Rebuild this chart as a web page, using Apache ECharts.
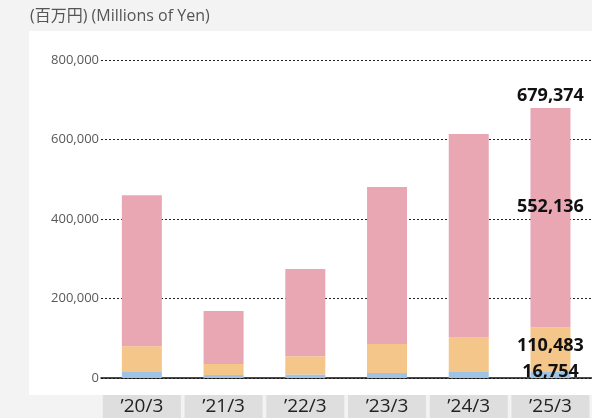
<!DOCTYPE html>
<html><head><meta charset="utf-8">
<script src="https://cdn.jsdelivr.net/npm/echarts@6/dist/echarts.min.js"></script>
<style>html,body{margin:0;padding:0;background:#f2f3f2;}#c{width:592px;height:418px;}</style>
</head><body><div id="c"></div>
<script>
const categories = ['’20/3','’21/3','’22/3','’23/3','’24/3','’25/3'];
const blueValues = [15000, 7500, 8500, 12500, 15000, 16754];
const orangeValues = [65000, 27500, 46500, 73000, 88000, 110483];
const pinkValues = [380000, 133500, 219000, 395000, 511000, 552136];
const totalLabel = '679,374';
const yTicks = [0, 200000, 400000, 600000, 800000];

const fmt = v => v.toLocaleString('en-US');
const lastIdx = categories.length - 1;
const labelStyle = {fontFamily:'Open Sans', fontWeight:'bold', fontSize:18, color:'#111'};

function mkData(vals, labelOffset) {
  return vals.map((v, i) => {
    if (i !== lastIdx) return v;
    return {value: v, label: Object.assign({show:true, position:'inside', offset:labelOffset, formatter: fmt(v)}, labelStyle)};
  });
}

const chart = echarts.init(document.getElementById('c'), null, {renderer:'canvas'});
chart.setOption({
  backgroundColor:'#f2f3f2',
  animation:false,
  graphic:[
    {type:'rect', shape:{x:29, y:31, width:563, height:364}, style:{fill:'#ffffff'}, z:-10, silent:true},
    {type:'text', left:30, top:8, style:{text:'(百万円) (Millions of Yen)', fontFamily:'Open Sans, Noto Sans CJK JP', fontSize:16, fill:'#555555'}}
  ],
  grid:{left:101, top:60, width:496, height:319},
  xAxis:{
    type:'category', data:categories,
    axisLine:{lineStyle:{color:'#111', width:1.5}},
    axisTick:{show:false},
    axisLabel:{
      margin:17, interval:0,
      formatter: v => '{a|' + v + '}',
      rich:{a:{width:78, height:23, lineHeight:23, align:'center', backgroundColor:'#dddedd', fontFamily:'Open Sans', fontSize:19, color:'#222'}}
    }
  },
  yAxis:{
    type:'value', min:yTicks[0], max:yTicks[yTicks.length-1], interval:yTicks[1]-yTicks[0],
    axisLine:{show:false}, axisTick:{show:false},
    axisLabel:{margin:2, fontFamily:'Open Sans', fontSize:13, color:'#595959', formatter: v => fmt(v)},
    splitLine:{lineStyle:{color:'#222', type:[2,2], width:1}}
  },
  series:[
    {type:'bar', stack:'t', barWidth:40, itemStyle:{color:'#9fc3e4'}, data: mkData(blueValues, [0,-3])},
    {type:'bar', stack:'t', barWidth:40, itemStyle:{color:'#f4c68a'}, data: mkData(orangeValues, [0,-4])},
    {type:'bar', stack:'t', barWidth:40, itemStyle:{color:'#e9a7b4'}, data: mkData(pinkValues, [0,-11])},
    {type:'bar', stack:'t', barWidth:40, itemStyle:{color:'transparent'}, data: categories.map((c,i)=> i===lastIdx ? {value:0, label:Object.assign({show:true, position:'top', distance:3, formatter: totalLabel}, labelStyle)} : 0)}
  ]
});
</script></body></html>
